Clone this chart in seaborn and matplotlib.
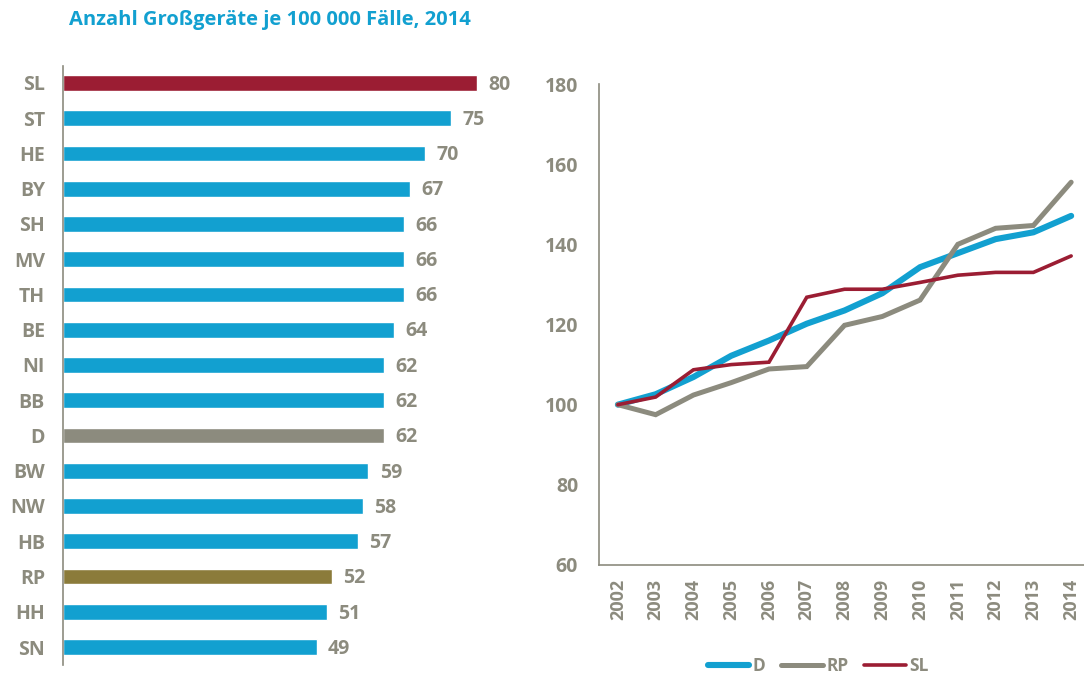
import matplotlib
matplotlib.use("Agg")
import matplotlib.pyplot as plt
import seaborn as sns
import pandas as pd

# --- Daten ---
laender = ["SL", "ST", "HE", "BY", "SH", "MV", "TH", "BE", "NI", "BB",
           "D", "BW", "NW", "HB", "RP", "HH", "SN"]
geraete_2014 = [80, 75, 70, 67, 66, 66, 66, 64, 62, 62, 62, 59, 58, 57, 52, 51, 49]

jahre = [2002, 2003, 2004, 2005, 2006, 2007, 2008, 2009, 2010, 2011, 2012, 2013, 2014]
index_d = [100, 102.6, 106.9, 112.2, 116.0, 120.2, 123.5, 127.8, 134.3, 137.8, 141.3, 143.0, 147.1]
index_rp = [100, 97.5, 102.4, 105.5, 108.9, 109.5, 119.8, 122.0, 126.1, 140.0, 144.0, 144.7, 155.5]
index_sl = [100, 101.9, 108.7, 110.0, 110.6, 126.8, 128.8, 128.8, 130.5, 132.3, 133.0, 133.0, 137.1]

# --- Farben ---
BLAU = "#12A0D0"
GRAU = "#8C8B7E"
ROT = "#9B1D33"
OLIV = "#8B7B3A"
TEXT = "#8C8B7E"

sns.set_theme(style="white")
plt.rcParams["font.family"] = ["Open Sans", "DejaVu Sans"]
plt.rcParams["font.weight"] = "bold"

fig = plt.figure(figsize=(10.84, 6.8), dpi=100)

# --- Balkendiagramm ---
ax1 = fig.add_axes([63 / 1084, 1 - 665 / 680, 477 / 1084, 599 / 680])
bar_df = pd.DataFrame({"land": laender, "wert": geraete_2014})
farben = {l: BLAU for l in laender}
farben.update({"SL": ROT, "D": GRAU, "RP": OLIV})
sns.barplot(data=bar_df, x="wert", y="land", hue="land", palette=farben,
            legend=False, width=0.45, saturation=1, ax=ax1)
for i, v in enumerate(geraete_2014):
    ax1.text(v + 2.2, i + 0.05, str(v), va="center", ha="left", fontsize=14,
             fontweight="bold", color=TEXT)
ax1.set_xlim(0, 92.2)
ax1.set_ylim(16.51, -0.48)
ax1.set_xlabel("")
ax1.set_ylabel("")
ax1.set_xticks([])
ax1.tick_params(axis="y", length=0, labelsize=14, labelcolor=TEXT, pad=13)
for lab in ax1.get_yticklabels():
    lab.set_fontweight("bold")
for s in ["top", "right", "bottom"]:
    ax1.spines[s].set_visible(False)
ax1.spines["left"].set_color(GRAU)
ax1.spines["left"].set_linewidth(1.2)

fig.text(270 / 1084, 1 - 20 / 680, "Anzahl Großgeräte je 100 000 Fälle, 2014",
         ha="center", va="center", fontsize=14.5, fontweight="bold", color=BLAU)

# --- Liniendiagramm ---
ax2 = fig.add_axes([599 / 1084, 1 - 565 / 680, 485 / 1084, 481 / 680])
line_df = pd.DataFrame({
    "jahr": jahre * 3,
    "index": index_d + index_rp + index_sl,
    "serie": ["D"] * len(jahre) + ["RP"] * len(jahre) + ["SL"] * len(jahre),
})
breiten = {"D": 4.4, "RP": 3.6, "SL": 2.6}
for name, farbe in [("D", BLAU), ("RP", GRAU), ("SL", ROT)]:
    sns.lineplot(data=line_df[line_df["serie"] == name], x="jahr", y="index",
                 color=farbe, linewidth=breiten[name], label=name, ax=ax2,
                 solid_capstyle="round", solid_joinstyle="miter")
ax2.set_xlim(2001.5, 2014.34)
ax2.set_ylim(60, 180)
ax2.set_yticks(range(60, 181, 20))
ax2.set_xticks(jahre)
ax2.set_xticklabels([str(j) for j in jahre], rotation=90)
ax2.set_xlabel("")
ax2.set_ylabel("")
ax2.tick_params(axis="y", length=6, width=1, color="#BDBDB5", labelsize=14,
                labelcolor=TEXT, pad=9)
ax2.tick_params(axis="x", length=0, labelsize=13, labelcolor=TEXT, pad=10)
for lab in ax2.get_xticklabels() + ax2.get_yticklabels():
    lab.set_fontweight("bold")
for s in ["top", "right"]:
    ax2.spines[s].set_visible(False)
for s in ["left", "bottom"]:
    ax2.spines[s].set_color(GRAU)
    ax2.spines[s].set_linewidth(1.2)

handles, labels = ax2.get_legend_handles_labels()
ax2.legend_.remove()
leg = fig.legend(handles, labels, loc="center", ncol=3,
                 bbox_to_anchor=(818 / 1084, 1 - 666 / 680), frameon=False,
                 fontsize=12.5, handlelength=2.4, handletextpad=0.2, columnspacing=0.9)
for t in leg.get_texts():
    t.set_color(TEXT)
    t.set_fontweight("bold")

fig.savefig("out.png", dpi=100)
